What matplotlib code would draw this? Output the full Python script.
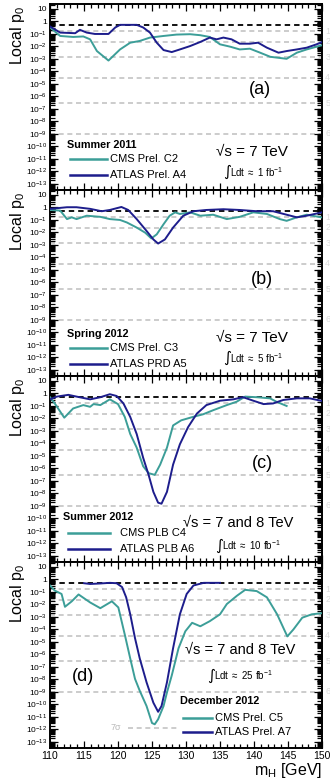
import numpy as np
import matplotlib
matplotlib.use("Agg")
import matplotlib.pyplot as plt
from matplotlib.ticker import FixedLocator, MultipleLocator, LogLocator, NullFormatter, FuncFormatter

plt.rcParams['font.family'] = ['Liberation Sans', 'DejaVu Sans']
plt.rcParams['mathtext.fontset'] = 'custom'
plt.rcParams['mathtext.rm'] = 'Liberation Sans'
plt.rcParams['mathtext.it'] = 'Liberation Sans:italic'
plt.rcParams['mathtext.bf'] = 'Liberation Sans:bold'

# ---------------- data (log10 of local p0 vs m_H) ----------------
a_cms_m = [110, 111.5, 113.4, 114.9, 115.9, 116.9, 118.6, 120.3, 121.8, 123.2, 124.7, 126.7, 128.6, 130.6,
           132.1, 133.5, 135.0, 136.5, 137.9, 139.4, 140.9, 142.4, 144.8, 146.3, 147.75, 150]
a_cms_lp = [-0.47, -1.16, -1.24, -1.2, -1.43, -2.37, -3.13, -2.24, -1.7, -1.56, -1.29, -1.16, -1.05, -1.02,
            -1.1, -1.24, -1.83, -2.02, -2.24, -2.18, -2.5, -2.83, -2.99, -2.5, -2.24, -1.9]
a_atl_m = [110, 111.5, 113.7, 114.4, 115.4, 116.6, 118.6, 119.6, 120.3, 122.75, 123.7, 124.7, 125.7, 126.7,
           127.9, 129.1, 130.6, 132.1, 133.5, 134.5, 135.5, 136.7, 137.9, 139.4, 140.6, 141.9, 143.6, 144.8,
           146.3, 147.75, 149.2, 150]
a_atl_lp = [-0.4, -0.89, -0.94, -0.67, -0.89, -1.0, -1.0, -0.48, -0.27, -0.27, -0.48, -0.89, -1.7, -2.29,
            -2.45, -2.24, -1.97, -1.64, -1.29, -1.43, -1.29, -1.43, -1.78, -1.78, -1.7, -2.1, -2.5, -2.37,
            -2.24, -2.1, -1.83, -1.65]

b_cms_m = [110, 111.5, 112.5, 113.2, 113.9, 115.4, 117.4, 118.8, 120.3, 121.3, 122.75, 124.0, 124.9, 125.7,
           126.7, 127.6, 128.4, 129.1, 130.6, 132.1, 134.0, 136.0, 137.9, 139.9, 141.9, 143.8, 144.8, 146.3,
           147.75, 150]
b_cms_lp = [-0.2, -0.25, -0.93, -0.79, -0.93, -0.66, -0.75, -0.93, -1.0, -1.2, -1.61, -2.02, -2.48, -2.15,
            -1.34, -0.66, -0.39, -0.52, -0.39, -0.66, -0.58, -0.93, -0.75, -0.39, -0.52, -0.93, -1.07, -0.79,
            -0.58, -0.8]
b_atl_m = [110, 112.5, 113.9, 115.9, 117.6, 118.8, 120.5, 121.5, 122.75, 124.2, 125.2, 125.9, 126.9, 128.1,
           129.6, 131.1, 133.0, 135.5, 137.9, 140.4, 142.8, 144.8, 146.3, 147.75, 150]
b_atl_lp = [-0.11, 0.02, 0.02, -0.11, -0.3, -0.2, 0.04, -0.2, -0.93, -1.88, -2.56, -2.89, -2.56, -1.61,
            -0.66, -0.3, -0.2, -0.14, -0.2, -0.3, -0.3, -0.58, -0.79, -0.66, -0.39]

c_cms_m = [110, 110.7, 112.1, 113.4, 114.9, 115.9, 116.4, 117.4, 118.8, 120.0, 121.0, 121.8, 122.75, 123.7,
           124.5, 125.4, 126.2, 127.2, 128.1, 129.3, 131.0, 132.5, 134.0, 136.0, 137.45, 138.7, 140.4, 142.35,
           143.3, 144.8]
c_cms_lp = [-0.3, -0.8, -1.94, -1.2, -0.93, -1.07, -0.85, -0.93, -0.47, -0.85, -1.88, -3.25, -4.34, -5.83,
            -6.38, -6.52, -5.7, -4.34, -2.56, -2.15, -1.88, -1.67, -1.34, -0.93, -0.66, -0.25, -0.3, -0.39,
            -0.66, -1.0]
c_atl_m = [110, 111, 112.7, 113.9, 115.9, 117.4, 118.8, 119.8, 120.8, 121.8, 122.75, 123.7, 124.5, 125.2,
           125.9, 126.4, 127.2, 128.1, 129.1, 130.3, 131.6, 133.0, 135.0, 136.95, 138.4, 139.9, 141.4, 142.8,
           144.3, 146.3, 148.2, 150]
c_atl_lp = [-0.47, -0.25, -0.11, -0.25, -0.47, -0.3, -0.06, -0.2, -0.8, -1.88, -3.25, -5.15, -6.52, -7.88,
            -8.75, -8.83, -7.88, -5.7, -4.07, -2.7, -1.61, -0.93, -0.58, -0.47, -0.3, -0.58, -0.85, -0.8,
            -0.52, -0.39, -0.39, -0.6]

d_cms_m = [110, 110.7, 111.7, 112.2, 113.2, 114.2, 115.9, 117.4, 119.1, 120.05, 121.0, 121.8, 122.5, 123.2,
           124.2, 125.0, 125.4, 125.9, 126.7, 127.2, 127.9, 128.9, 129.9, 130.9, 132.1, 133.5, 135.0, 136.0,
           137.5, 138.7, 140.4, 141.9, 143.4, 144.9, 145.8, 147.1, 148.5, 150]
d_cms_lp = [-0.48, -0.89, -1.16, -2.19, -1.75, -1.2, -1.84, -2.3, -1.75, -2.24, -4.42, -6.33, -7.96, -8.92,
            -10.14, -11.5, -11.6, -11.2, -10.14, -9.05, -7.7, -5.51, -4.15, -3.47, -3.75, -3.34, -2.79, -1.97,
            -1.3, -0.83, -0.93, -1.43, -2.79, -4.56, -4.0, -3.06, -2.79, -2.7]
d_atl_m = [115, 115.9, 117.4, 118.8, 119.8, 120.6, 121.2, 121.8, 122.5, 123.2, 124.2, 125.2, 125.9, 126.4,
           127.2, 128.1, 129.1, 130.1, 131.1, 132.6, 135]
d_atl_lp = [-0.3, -0.36, -0.32, -0.27, -0.3, -0.61, -1.43, -2.79, -4.7, -6.33, -8.24, -9.87, -10.6, -10.14,
            -8.24, -5.51, -2.79, -1.16, -0.48, -0.27, -0.27]

panel_labels = ['(a)', '(b)', '(c)', '(d)']
periods = ['Summer 2011', 'Spring 2012', 'Summer 2012', 'December 2012']
cms_names = ['CMS Prel. C2', 'CMS Prel. C3', 'CMS PLB C4', 'CMS Prel. C5']
atlas_names = ['ATLAS Prel. A4', 'ATLAS PRD A5', 'ATLAS PLB A6', 'ATLAS Prel. A7']
energies = ['\u221as = 7 TeV', '\u221as = 7 TeV', '\u221as = 7 and 8 TeV', '\u221as = 7 and 8 TeV']
lumis = ['1', '5', '10', '25']
sigma_levels = [1, 2, 3, 4, 5, 6]
sigma_p = [0.1587, 0.02275, 1.35e-3, 3.17e-5, 2.87e-7, 9.87e-10]
p7 = 1.28e-12
xticks_labels = [110, 115, 120, 125, 130, 135, 140, 145, 150]

CMS_C = '#3c9e98'
ATL_C = '#1d1d8c'
GRAY = '#c4c4c4'

data = [(a_cms_m, a_cms_lp, a_atl_m, a_atl_lp), (b_cms_m, b_cms_lp, b_atl_m, b_atl_lp),
        (c_cms_m, c_cms_lp, c_atl_m, c_atl_lp), (d_cms_m, d_cms_lp, d_atl_m, d_atl_lp)]

W, H = 330, 779
fig = plt.figure(figsize=(W / 100, H / 100), dpi=100)
left = 50 / W
width = 272 / W
ph = 186 / H
bottom0 = 31 / H

# text layout per panel (axes fractions)
lay = [
    dict(lab=(0.772, 0.543), per=(0.0625, 0.242), ln=(0.0735, 0.21), tx=0.22, yc=0.167, ya=0.081,
         en=(0.61, 0.204, 11), lu=(0.636, 0.097)),
    dict(lab=(0.78, 0.52), per=(0.0625, 0.226), ln=(0.0735, 0.21), tx=0.22, yc=0.151, ya=0.065,
         en=(0.61, 0.204, 11), lu=(0.636, 0.097)),
    dict(lab=(0.78, 0.532), per=(0.048, 0.242), ln=(0.066, 0.22), tx=0.257, yc=0.156, ya=0.07,
         en=(0.489, 0.21, 10.5), lu=(0.607, 0.091)),
    dict(lab=(0.121, 0.387), per=(0.478, 0.253), ln=(0.489, 0.596), tx=0.607, yc=0.161, ya=0.086,
         en=(0.496, 0.527, 10.5), lu=(0.577, 0.392)),
]


def yfmt(v, pos):
    e = int(round(np.log10(v)))
    if e == 1:
        return '10'
    if e == 0:
        return '1'
    return r'$10^{%d}$' % e


for i in range(4):
    ax = fig.add_axes([left, bottom0 + (3 - i) * ph, width, ph])
    cm, cl, am, al = data[i]
    ax.set_yscale('log')
    ax.set_xlim(110, 150)
    ax.set_ylim(10 ** -13.5, 10 ** 1.4)

    # sigma reference lines
    for p in sigma_p:
        ax.axhline(p, color=GRAY, ls=(0, (3, 2.2)), lw=1.2, zorder=1)
    ax.axhline(0.5, color='black', ls=(0, (3, 2.2)), lw=1.3, zorder=2)
    for s, p in zip(sigma_levels, sigma_p):
        ax.text(1.012, p, str(s), transform=ax.get_yaxis_transform(), color='#dcdcdc',
                fontsize=6.5, va='center', ha='left', clip_on=False)

    ax.plot(cm, 10 ** np.array(cl), color=CMS_C, lw=1.4, zorder=3)
    ax.plot(am, 10 ** np.array(al), color=ATL_C, lw=1.4, zorder=4)

    if i == 3:
        ax.plot([121.5, 128.8], [p7, p7], color=GRAY, ls=(0, (3, 2.2)), lw=1.2, zorder=1)
        ax.text(119.6, p7, '7\u03c3', color='#b8b8b8', fontsize=6.5, ha='center', va='center')

    # ticks
    ax.yaxis.set_major_locator(FixedLocator([10.0 ** k for k in range(-13, 2)]))
    ax.yaxis.set_minor_locator(LogLocator(base=10, subs=np.arange(2, 10), numticks=40))
    ax.yaxis.set_major_formatter(FuncFormatter(yfmt))
    ax.yaxis.set_minor_formatter(NullFormatter())
    ax.xaxis.set_major_locator(FixedLocator(xticks_labels))
    ax.xaxis.set_minor_locator(MultipleLocator(1))
    ax.tick_params(axis='both', which='both', direction='in', top=True, right=True, width=0.9)
    ax.tick_params(axis='y', which='major', length=6, labelsize=6, pad=2)
    ax.tick_params(axis='y', which='minor', length=3.5)
    ax.tick_params(axis='x', which='major', length=5, labelsize=7.5, pad=2)
    ax.tick_params(axis='x', which='minor', length=3)
    if i < 3:
        ax.tick_params(axis='x', labelbottom=False)
    for sp in ax.spines.values():
        sp.set_linewidth(1.4)

    ax.text(-0.118, 0.83, r'Local p$_{0}$', rotation=90, transform=ax.transAxes,
            ha='center', va='center', fontsize=11.5)

    L = lay[i]
    ax.text(L['lab'][0], L['lab'][1], panel_labels[i], transform=ax.transAxes, fontsize=13,
            ha='center', va='center')
    ax.text(L['per'][0], L['per'][1], periods[i], transform=ax.transAxes, fontsize=7.8,
            fontweight='bold', ha='left', va='center')
    ax.plot([L['ln'][0], L['ln'][1]], [L['yc'], L['yc']], transform=ax.transAxes, color=CMS_C, lw=1.8)
    ax.plot([L['ln'][0], L['ln'][1]], [L['ya'], L['ya']], transform=ax.transAxes, color=ATL_C, lw=1.8)
    ax.text(L['tx'], L['yc'], cms_names[i], transform=ax.transAxes, fontsize=8, ha='left', va='center')
    ax.text(L['tx'], L['ya'], atlas_names[i], transform=ax.transAxes, fontsize=8, ha='left', va='center')
    ax.text(L['en'][0], L['en'][1], energies[i], transform=ax.transAxes, fontsize=L['en'][2],
            ha='left', va='center', family=['Liberation Sans', 'DejaVu Sans'])
    ax.text(L['lu'][0], L['lu'][1], '\u222b', transform=ax.transAxes, fontsize=11,
            ha='left', va='center', family=['DejaVu Sans'])
    ax.text(L['lu'][0] + 0.025, L['lu'][1], r'Ldt $\approx$ %s fb$^{-1}$' % lumis[i], transform=ax.transAxes,
            fontsize=7, ha='left', va='center')

    if i == 3:
        ax.text(1.0, -0.12, r'm$_{\mathrm{H}}$ [GeV]', transform=ax.transAxes, fontsize=11.5,
                ha='right', va='center')

fig.savefig('out.png', dpi=100)
